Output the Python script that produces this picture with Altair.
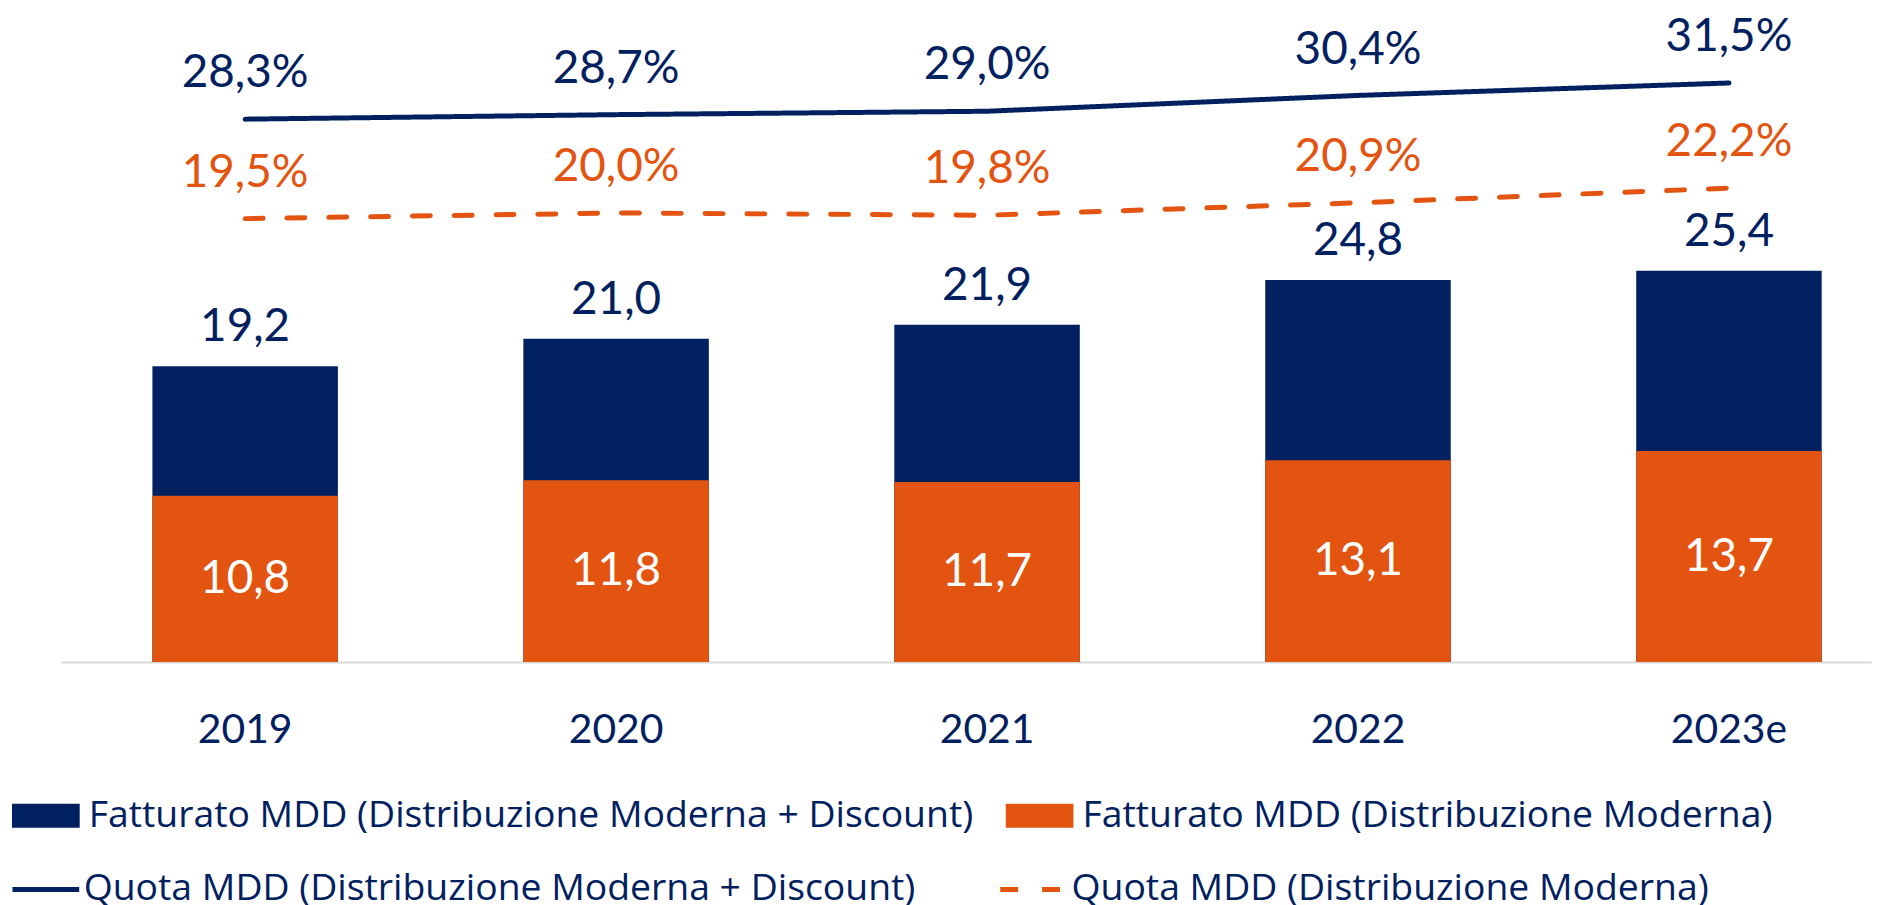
import altair as alt
import pandas as pd

years = ["2019", "2020", "2021", "2022", "2023e"]
fatt_tot = [19.2, 21.0, 21.9, 24.8, 25.4]
fatt_md = [10.8, 11.8, 11.7, 13.1, 13.7]
quota_tot = [28.3, 28.7, 29.0, 30.4, 31.5]
quota_md = [19.5, 20.0, 19.8, 20.9, 22.2]

S_FT = "Fatturato MDD (Distribuzione Moderna + Discount)"
S_FM = "Fatturato MDD (Distribuzione Moderna)"
S_QT = "Quota MDD (Distribuzione Moderna + Discount)"
S_QM = "Quota MDD (Distribuzione Moderna)"

NAVY = "#002060"
ORANGE = "#E35410"
FONT = "Lato"
LFONT = "Open Sans"


def fmt(v, pct=False):
    s = f"{v:.1f}".replace(".", ",")
    return s + ("%" if pct else "")


bars = pd.DataFrame(
    [{"anno": y, "serie": S_FT, "valore": v, "lab": fmt(v)} for y, v in zip(years, fatt_tot)]
    + [{"anno": y, "serie": S_FM, "valore": v, "lab": fmt(v)} for y, v in zip(years, fatt_md)]
)
lines = pd.DataFrame(
    [{"anno": y, "serie": S_QT, "valore": v, "lab": fmt(v, True)} for y, v in zip(years, quota_tot)]
    + [{"anno": y, "serie": S_QM, "valore": v, "lab": fmt(v, True)} for y, v in zip(years, quota_md)]
)

xenc = alt.X(
    "anno:N",
    sort=years,
    title=None,
    scale=alt.Scale(paddingInner=0.5, paddingOuter=0.19, align=0.65),
    axis=alt.Axis(
        labelAngle=0,
        labelFont=FONT,
        labelFontSize=41,
        labelColor=NAVY,
        labelBaseline="alphabetic",
        labelPadding=81,
        ticks=False,
        tickSize=0,
        domainColor="#D9D9D9",
        domainWidth=2,
        grid=False,
    ),
)

ybar_scale = alt.Scale(domain=[0, 42.21], nice=False, zero=False)
yline_scale = alt.Scale(domain=[-19.74, 37.79], nice=False, zero=False)

bar_layer = alt.Chart(bars).mark_bar(strokeWidth=0).encode(
    x=xenc,
    y=alt.Y("valore:Q", scale=ybar_scale, axis=None, stack=None),
    fill=alt.Fill(
        "serie:N",
        scale=alt.Scale(domain=[S_FT, S_FM], range=[NAVY, ORANGE]),
        legend=alt.Legend(
            title=None,
            orient="none",
            legendX=-49,
            legendY=773,
            direction="horizontal",
            columns=2,
            columnPadding=32,
            padding=0,
            symbolType="M-1,-0.353L1,-0.353L1,0.353L-1,0.353Z",
            symbolSize=4624,
            symbolStrokeWidth=0,
            labelFont=LFONT,
            labelFontSize=37.5,
            labelColor=NAVY,
            labelOffset=9,
            labelLimit=0,
        ),
    ),
)

tot_labels = alt.Chart(bars).transform_filter(
    alt.datum.serie == S_FT
).mark_text(font=FONT, fontSize=46, color=NAVY, baseline="alphabetic", dy=-25).encode(
    x=alt.X("anno:N", sort=years),
    y=alt.Y("valore:Q", scale=ybar_scale, axis=None),
    text="lab:N",
)

md_labels = alt.Chart(bars).transform_filter(
    alt.datum.serie == S_FM
).transform_calculate(mid="datum.valore / 2").mark_text(
    font=FONT, fontSize=46, color="white", baseline="middle"
).encode(
    x=alt.X("anno:N", sort=years),
    y=alt.Y("mid:Q", scale=ybar_scale, axis=None),
    text="lab:N",
)


def line_legend():
    return alt.Legend(
        title=None,
        orient="none",
        legendX=-51,
        legendY=845,
        direction="horizontal",
        columns=2,
        columnPadding=74,
        padding=0,
        symbolType="stroke",
        symbolSize=4489,
        symbolStrokeWidth=5,
        labelFont=LFONT,
        labelFontSize=37.5,
        labelColor=NAVY,
        labelOffset=2,
        labelLimit=0,
    )


line_layer = alt.Chart(lines).mark_line(strokeCap="round").encode(
    x=alt.X("anno:N", sort=years),
    y=alt.Y("valore:Q", scale=yline_scale, axis=None),
    strokeWidth=alt.value(5),
    stroke=alt.Stroke(
        "serie:N",
        scale=alt.Scale(domain=[S_QT, S_QM], range=[NAVY, ORANGE]),
        legend=line_legend(),
    ),
    strokeDash=alt.StrokeDash(
        "serie:N",
        scale=alt.Scale(domain=[S_QT, S_QM], range=[[1, 0], [18, 24]]),
        legend=line_legend(),
    ),
)

line_labels = alt.Chart(lines).mark_text(
    font=FONT, fontSize=46, baseline="alphabetic", dy=-32
).encode(
    x=alt.X("anno:N", sort=years),
    y=alt.Y("valore:Q", scale=yline_scale, axis=None),
    text="lab:N",
    color=alt.Color(
        "serie:N",
        scale=alt.Scale(domain=[S_QT, S_QM], range=[NAVY, ORANGE]),
        legend=None,
    ),
)

chart = (
    alt.layer(
        alt.layer(bar_layer, tot_labels, md_labels),
        alt.layer(line_layer, line_labels),
    )
    .resolve_scale(y="independent")
    .properties(
        width=1818,
        height=653,
        padding={"left": 53, "top": 2, "right": 9, "bottom": 242},
        autosize=alt.AutoSizeParams(type="none"),
        background="white",
    )
    .configure_view(stroke=None)
    .configure_legend(symbolStrokeWidth=5)
)

chart.save("out.html", embed_options={"renderer": "svg", "actions": False})
